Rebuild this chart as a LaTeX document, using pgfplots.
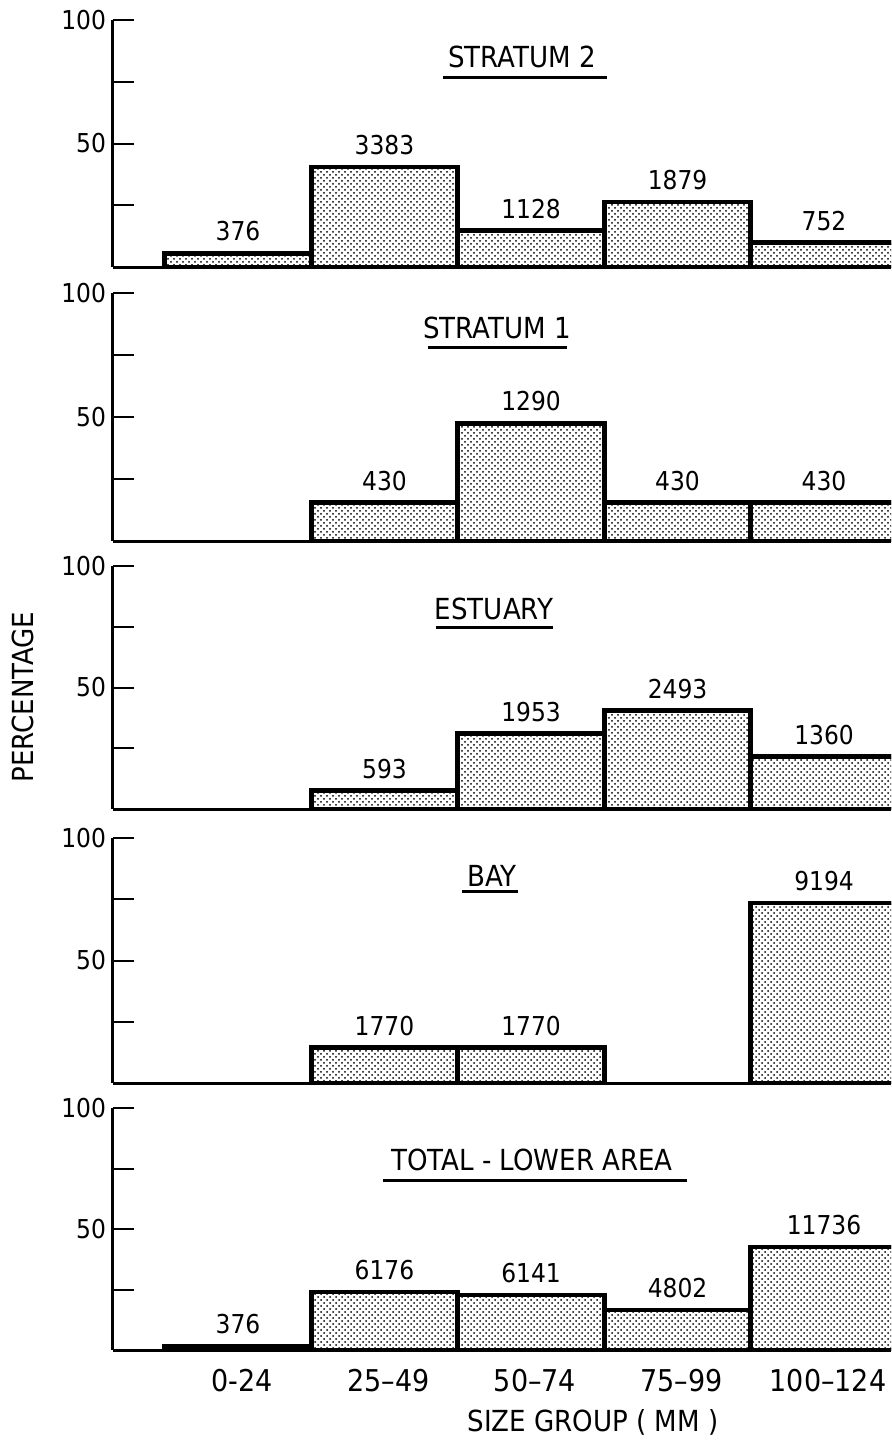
\documentclass[border=0pt]{standalone}
\usepackage{fontspec}
\setmainfont{DejaVu Sans Condensed}
\usepackage{pgfplots}
\pgfplotsset{compat=1.18}
\usetikzlibrary{patterns}

\pgfplotsset{
  panel/.style={
    scale only axis, width=389pt,
    xmin=-0.853, xmax=4.457, ymin=0, ymax=100,
    axis x line*=bottom, axis y line*=left,
    axis line style={line width=1.5pt, -},
    ytick={25,50,75,100}, yticklabels={,50,,100},
    tick align=inside, major tick length=10.5pt,
    ytick style={line width=1pt, black},
    xtick=\empty,
    yticklabel style={font=\fontsize{13}{15}\selectfont},
    ybar, bar width=1, bar shift=0,
    nodes near coords, point meta=explicit symbolic,
    every node near coord/.style={font=\fontsize{13}{15}\selectfont, anchor=south, yshift=1.5pt},
  },
  bars/.style={draw=black, line width=2.4pt, fill=white,
    postaction={pattern=crosshatch dots, pattern color=black}},
}

\begin{document}
\begin{tikzpicture}
\useasboundingbox (0,0) rectangle (445.5pt,-720.5pt);

% STRATUM 2
\begin{axis}[panel, height=123.5pt, at={(56.5pt,-133.5pt)}, anchor=south west]
\addplot[bars] coordinates {(0,5.5)[376] (1,40.5)[3383] (2,14.8)[1128] (3,26.3)[1879] (4,9.8)[752]};
\end{axis}

% STRATUM 1
\begin{axis}[panel, height=124pt, at={(56.5pt,-270.5pt)}, anchor=south west]
\addplot[bars] coordinates {(1,15.5)[430] (2,47.5)[1290] (3,15.5)[430] (4,15.5)[430]};
\end{axis}

% ESTUARY
\begin{axis}[panel, height=121.5pt, at={(56.5pt,-404.5pt)}, anchor=south west]
\addplot[bars] coordinates {(1,7.5)[593] (2,31)[1953] (3,40.5)[2493] (4,21.5)[1360]};
\end{axis}

% BAY
\begin{axis}[panel, height=122.5pt, at={(56.5pt,-541.5pt)}, anchor=south west]
\addplot[bars] coordinates {(1,14.5)[1770] (2,14.5)[1770] (4,73.5)[9194]};
\end{axis}

% TOTAL - LOWER AREA
\begin{axis}[panel, height=121pt, at={(56.5pt,-675pt)}, anchor=south west,
  xtick={0,1,2,3,4}, xticklabels={0-24,25--49,50--74,75--99,100--124},
  xtick style={draw=none},
  xticklabel style={font=\fontsize{15}{17}\selectfont, yshift=4.5pt, xshift=2pt}]
\addplot[bars] coordinates {(0,1.5)[376] (1,24)[6176] (2,22.7)[6141] (3,16.5)[4802] (4,42.6)[11736]};
\end{axis}

\begin{scope}[x=0.5pt, y=-0.5pt, every node/.style={font=\fontsize{14.5}{16}\selectfont, inner sep=0pt}]
\node[anchor=base] at (522,67) {STRATUM 2};
\draw[line width=1.5pt] (443,77) -- (607,77);
\node[anchor=base] at (497,338) {STRATUM 1};
\draw[line width=1.5pt] (428,347) -- (567,347);
\node[anchor=base] at (494,619) {ESTUARY};
\draw[line width=1.5pt] (436,627) -- (553,627);
\node[anchor=base] at (492,886) {BAY};
\draw[line width=1.5pt] (462,891) -- (518,891);
\node[anchor=base] at (532,1170) {TOTAL - LOWER AREA};
\draw[line width=1.5pt] (383,1180) -- (687,1180);
\node[rotate=90] at (23,697) {PERCENTAGE};
\node at (593,1422) {SIZE GROUP ( MM )};
\end{scope}
\end{tikzpicture}
\end{document}
